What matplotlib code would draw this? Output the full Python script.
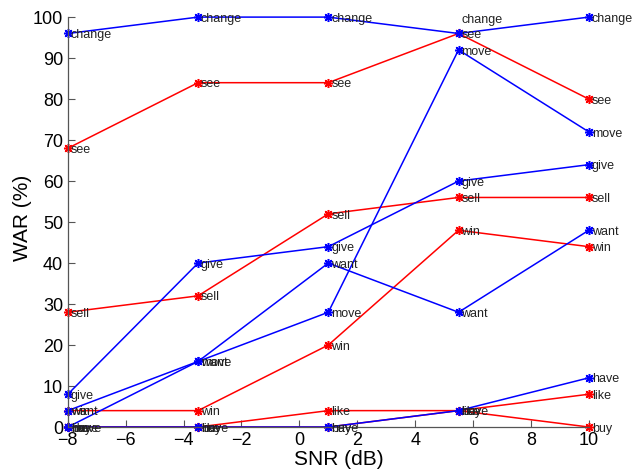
import matplotlib
matplotlib.use("Agg")
import matplotlib.pyplot as plt

plt.rcParams['font.family'] = ['Liberation Sans', 'DejaVu Sans']

snr = [-8, -3.5, 1, 5.5, 10]

change = [96, 100, 100, 96, 100]
see = [68, 84, 84, 96, 80]
move = [0, 16, 28, 92, 72]
give = [8, 40, 44, 60, 64]
want = [4, 16, 40, 28, 48]
sell = [28, 32, 52, 56, 56]
win = [4, 4, 20, 48, 44]
like = [0, 0, 4, 4, 8]
have = [0, 0, 0, 4, 12]
buy = [0, 0, 0, 4, 0]

words = ['sell', 'win', 'like', 'buy', 'see', 'change', 'move', 'give', 'want', 'have']
values = {'change': change, 'see': see, 'move': move, 'give': give, 'want': want,
          'sell': sell, 'win': win, 'like': like, 'have': have, 'buy': buy}
colors = {'change': 'blue', 'move': 'blue', 'give': 'blue', 'want': 'blue', 'have': 'blue',
          'see': 'red', 'sell': 'red', 'win': 'red', 'like': 'red', 'buy': 'red'}

fig = plt.figure(figsize=(6.4, 4.75), dpi=100)
ax = fig.add_axes([0.106, 0.101, 0.814, 0.863])

for w in words:
    ax.plot(snr, values[w], color=colors[w], marker=(8, 2, 0), markersize=6.5, linewidth=1.1,
            markeredgewidth=1.1, clip_on=False)

for w in words:
    for i, (x, y) in enumerate(zip(snr, values[w])):
        ty = y - 0.4
        if w == 'change' and i == 3:
            ty = y + 3.3
        ax.text(x + 0.1, ty, w, fontsize=9, color='#222222', va='center', ha='left',
                clip_on=False)

ax.set_xlim(-8, 10)
ax.set_ylim(0, 100)
ax.set_xticks([-8, -6, -4, -2, 0, 2, 4, 6, 8, 10])
ax.set_yticks(range(0, 101, 10))
ax.set_xticklabels(['\u22128', '\u22126', '\u22124', '\u22122', '0', '2', '4', '6', '8', '10'])
ax.tick_params(direction='in', length=5, width=0.8, labelsize=13, colors='#555555',
               labelcolor='black')
ax.spines['top'].set_visible(False)
ax.spines['right'].set_visible(False)
for s in ['left', 'bottom']:
    ax.spines[s].set_color('#555555')
    ax.spines[s].set_linewidth(0.9)
ax.set_xlabel('SNR (dB)', fontsize=15)
ax.set_ylabel('WAR (%)', fontsize=15)
ax.xaxis.set_label_coords(0.52, -0.055)
ax.yaxis.set_label_coords(-0.068, 0.51)

fig.savefig('out.png', dpi=100)
